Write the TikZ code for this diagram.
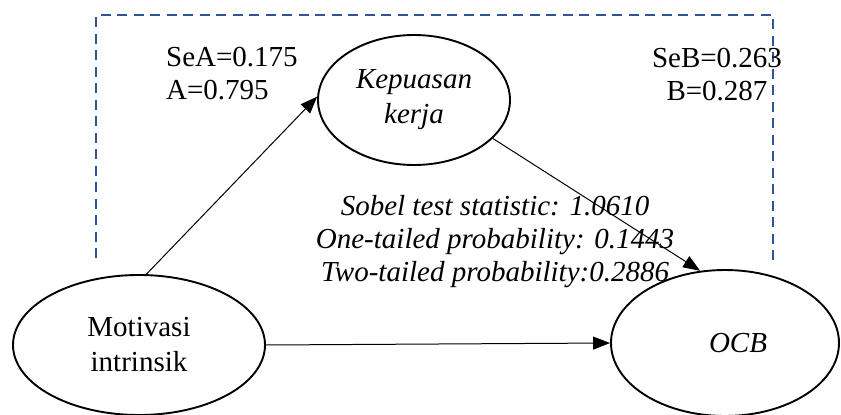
\documentclass[tikz,border=0pt]{standalone}
\usepackage{fontspec}
\setmainfont{Liberation Serif}
\usetikzlibrary{shapes.geometric,arrows.meta}
\definecolor{boxblue}{RGB}{47,85,151}
\tikzset{
  latent/.style={ellipse, draw, line width=1.9pt, inner sep=0pt, align=center,
    font=\fontsize{29}{35}\selectfont},
  path arrow/.style={line width=1pt, -{Triangle[length=17pt,width=13pt]}},
  lbl/.style={font=\fontsize{29}{33}\selectfont, inner sep=0pt},
  frame/.style={boxblue, line width=2.3pt, dash pattern=on 10pt off 6.5pt}
}
\begin{document}
\begin{tikzpicture}[x=1pt,y=-1pt]
\useasboundingbox (0,0) rectangle (841,415);

% open mediation frame
\coordinate (fbl) at (96,258);
\coordinate (ftl) at (96,15);
\coordinate (ftr) at (773,15);
\coordinate (fbr) at (773,262);
\draw[frame] (fbl) -- (ftl) -- (ftr) -- (fbr);

% latent variables
\node[latent, minimum width=192pt, minimum height=130pt] (kep) at (414,100) {\itshape Kepuasan\\\itshape kerja};
\node[latent, minimum width=252pt, minimum height=140pt] (mot) at (139,345) {Motivasi\\intrinsik};
\node[latent, minimum width=228pt, minimum height=146pt] (ocb) at (725,343) {\itshape\hspace*{26pt}OCB};

% path coefficients
\node[lbl, anchor=west, align=left] (sea) at (166,74) {SeA=0.175\\A=0.795};
\node[lbl, align=center] (seb) at (717,75) {SeB=0.263\\B=0.287};

% Sobel test results
\node[lbl, align=center, font=\fontsize{29}{33}\selectfont\itshape] (sobel) at (495,242)
  {Sobel test statistic: 1.0610\\One-tailed probability: 0.1443\\Two-tailed probability:0.2886};

% structural paths
\draw[path arrow] (mot.84) -- (kep.178);
\draw[path arrow] (kep.-26) -- (ocb.109);
\draw[path arrow] (mot.east) -- (ocb.west);
\end{tikzpicture}
\end{document}
